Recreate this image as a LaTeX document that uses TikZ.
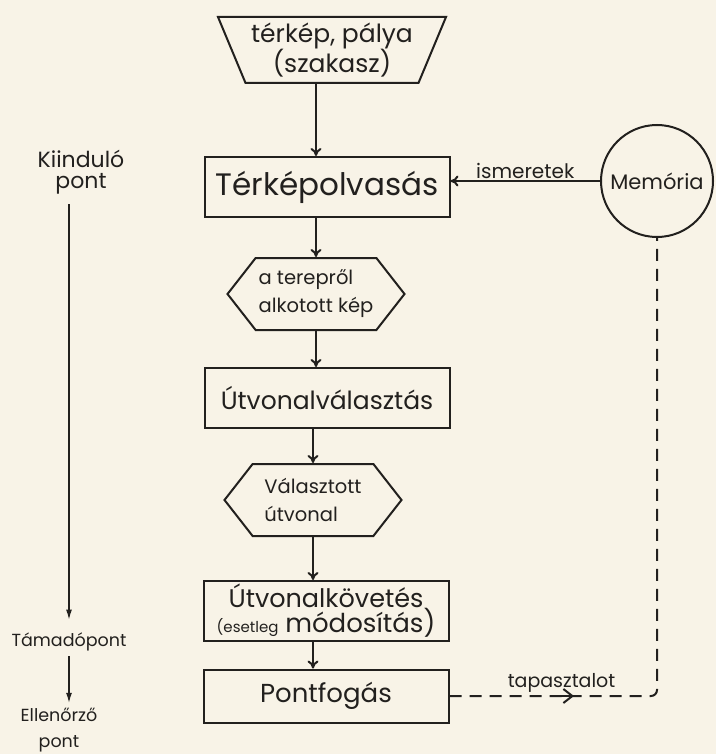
\documentclass[tikz,border=0pt]{standalone}
\usepackage{fontspec}
\setmainfont{Poppins}
\usetikzlibrary{shapes.geometric,shapes.symbols,arrows.meta,positioning}
\definecolor{paper}{RGB}{248,243,231}
\definecolor{ink}{RGB}{34,32,30}
\newcommand{\fsz}[2]{\fontsize{#1}{#2}\selectfont}
\tikzset{
    flowBase/.style={
        draw=ink,
        line width=2pt,
        text=ink,
        align=center,
        inner sep=2pt
    },
    procBox/.style={flowBase, rectangle, minimum width=245pt, minimum height=60pt},
    dataHex/.style={flowBase, signal, signal to=west and east, signal pointer angle=104,
        minimum width=177pt, minimum height=72pt, align=left},
    inputTrap/.style={flowBase, trapezium, shape border rotate=180, trapezium angle=65,
        trapezium stretches body, minimum width=228pt, minimum height=66pt},
    memCircle/.style={flowBase, circle, minimum size=112pt},
    sideLabel/.style={text=ink, align=center, inner sep=1pt},
    % Text sizes
    bigText/.style={font=\fsz{25}{26}},
    midText/.style={font=\fsz{21}{24}},
    smallText/.style={font=\fsz{19.5}{28}},
    % Arrows
    flowArrow/.style={-{To[length=8pt,width=11pt]}, line width=2pt, draw=ink},
    sideArrow/.style={-{Latex[length=10pt,width=6pt]}, line width=1.3pt, draw=ink},
    feedback/.style={line width=2pt, draw=ink, dash pattern=on 12pt off 8pt, rounded corners=6pt}
}

\begin{document}
\begin{tikzpicture}[x=1pt, y=-1pt]
\fill[paper] (0,0) rectangle (716,754);
\useasboundingbox (0,0) rectangle (716,754);

% main column
\node[inputTrap, font=\fsz{25}{24}] (map) at (332,50) {térkép, pálya\\(szakasz)};
\node[procBox, font=\fsz{31}{30}] (read) at (327,187) {Térképolvasás};
\node[dataHex, smallText] (image) at (316,294) {a terepről\\alkotott kép};
\node[procBox, bigText] (route) at (327,398) {Útvonalválasztás};
\node[dataHex, smallText] (chosen) at (313,500) {Választott\\útvonal};
\node[procBox, font=\fsz{25.5}{25}] (follow) at (326,611)
    {Útvonalkövetés\\{\fsz{15}{15}(esetleg} {\fsz{26}{25}módosítás)}};
\node[procBox, font=\fsz{26}{26}, minimum height=53pt] (punch) at (326,696) {Pontfogás};

\node[memCircle, midText] (mem) at (657,181) {Memória};

\draw[flowArrow] (map.south -| image) -- (read.north -| image);
\draw[flowArrow] (read.south -| image) -- (image.north);
\draw[flowArrow] (image.south) -- (route.north -| image);
\draw[flowArrow] (route.south -| chosen) -- (chosen.north);
\draw[flowArrow] (chosen.south) -- (follow.north -| chosen);
\draw[flowArrow] (follow.south -| chosen) -- (punch.north -| chosen);

% memory links
\draw[flowArrow] (mem.west) -- (mem.west -| read.east)
    node[midway, above, inner sep=1pt, font=\fsz{20}{20}, text=ink] {ismeretek};
\draw[feedback] (punch.east) -| (mem.south)
    node[pos=0.27, above, inner sep=3pt, font=\fsz{19}{19}, text=ink] {tapasztalot};
\path (punch.east) -- (punch.east -| mem.south)
    coordinate[pos=0.52] (fbtail) coordinate[pos=0.6] (fbtip);
\draw[flowArrow, -{Straight Barb[length=9pt,width=14pt]}] (fbtail) -- (fbtip);

% course of the run
\node[sideLabel, font=\fsz{22}{21}] (start) at (81,172) {Kiinduló\\pont};
\node[sideLabel, font=\fsz{17.5}{22}] (attack) at (69,642) {Támadópont};
\node[sideLabel, font=\fsz{17.5}{26}] (check) at (59,730) {Ellenőrző\\pont};
\draw[sideArrow, shorten <=9pt, shorten >=12pt] (start.south -| attack) -- (attack.north);
\draw[sideArrow, shorten <=4pt, shorten >=4pt] (attack.south) -- (check.north -| attack);
\end{tikzpicture}
\end{document}
